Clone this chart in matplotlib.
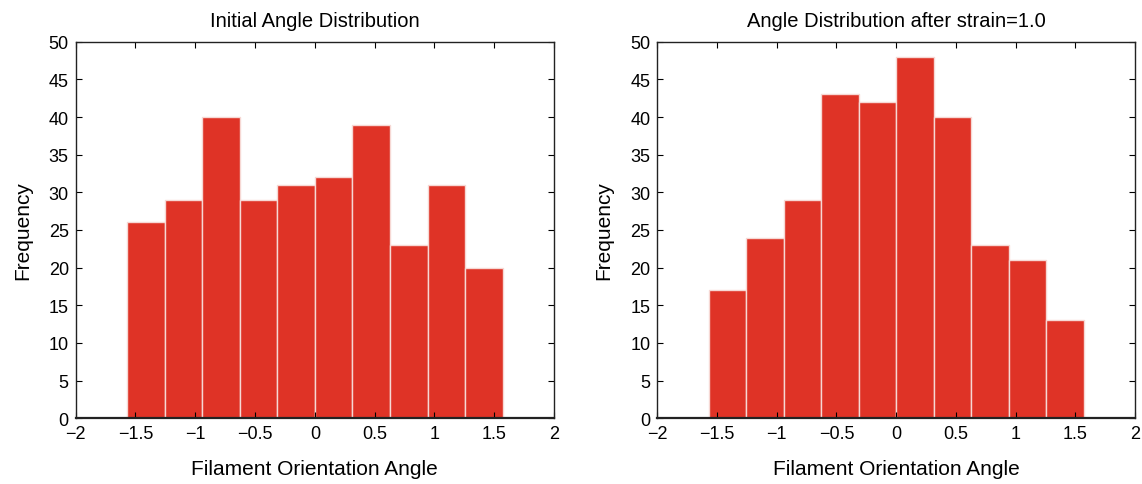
import numpy as np
import matplotlib.pyplot as plt

plt.rcParams['font.family'] = ['Liberation Sans', 'DejaVu Sans']

# histogram bins span -pi/2 .. pi/2
bin_edges = np.linspace(-np.pi / 2, np.pi / 2, 11)
initial_counts = [26, 29, 40, 29, 31, 32, 39, 23, 31, 20]
strained_counts = [17, 24, 29, 43, 42, 48, 40, 23, 21, 13]
titles = ['Initial Angle Distribution', 'Angle Distribution after strain=1.0']

bar_color = '#DF3326'

fig = plt.figure(figsize=(11.42, 4.85), dpi=100)
ax1 = fig.add_axes([0.0663, 0.1355, 0.4188, 0.7765])
ax2 = fig.add_axes([0.5756, 0.1355, 0.4183, 0.7765])

for ax, counts, title in zip([ax1, ax2], [initial_counts, strained_counts], titles):
    ax.hist(bin_edges[:-1], bins=bin_edges, weights=counts,
            color=bar_color, edgecolor='#F6D8D4', linewidth=1.0)
    ax.set_xlim(-2, 2)
    ax.set_ylim(0, 50)
    ax.set_xticks([-2, -1.5, -1, -0.5, 0, 0.5, 1, 1.5, 2])
    ax.set_xticklabels(['\u22122', '\u22121.5', '\u22121', '\u22120.5', '0', '0.5', '1', '1.5', '2'])
    ax.set_yticks(range(0, 51, 5))
    ax.tick_params(direction='in', top=True, right=True, length=4, labelsize=13, pad=5)
    ax.set_title(title, fontsize=14.5, pad=11)
    ax.set_xlabel('Filament Orientation Angle', fontsize=15, labelpad=12)
    ax.set_ylabel('Frequency', fontsize=15, labelpad=12)
    for s in ax.spines.values():
        s.set_linewidth(1.0)
        s.set_color('#222222')
    ax.spines['bottom'].set_linewidth(1.6)

fig.savefig('out.png', dpi=100)
